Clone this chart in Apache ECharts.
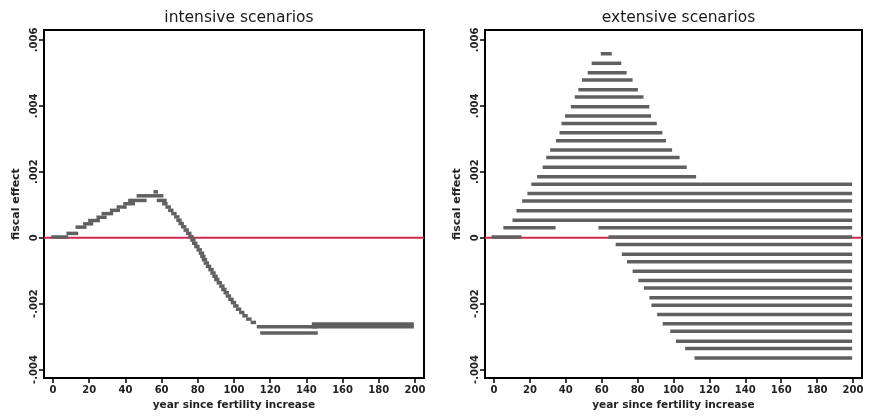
<!DOCTYPE html>
<html>
<head>
<meta charset="utf-8">
<script src="https://cdn.jsdelivr.net/npm/echarts@6/dist/echarts.min.js"></script>
<style>
html,body{margin:0;padding:0;background:#fff;}
#chart{width:870px;height:416px;}
</style>
</head>
<body>
<div id="chart"></div>
<script>
// ---- data ----
const panelTitles = ['intensive scenarios', 'extensive scenarios'];
const xAxisTitle = 'year since fertility increase';
const yAxisTitle = 'fiscal effect';
const xTickValues = [0, 20, 40, 60, 80, 100, 120, 140, 160, 180, 200];
const yTickValues = [-0.004, -0.002, 0, 0.002, 0.004, 0.006];
const yTickLabels = ['-.004', '-.002', '0', '.002', '.004', '.006'];
const xMin = -5, xMax = 205;
const yMin = -0.00426, yMax = 0.0063;
const zeroValue = 0;

// intensive scenarios: segment start year, end year, fiscal effect
const intensiveStart = [-1, 7.4, 12.4, 16.6, 19.4, 24, 26.8, 31.4, 35.1, 38.8, 41.5, 46.2, 55.5, 57.3,
  60.3, 62.1, 63.6, 65.3, 66.9, 68.1, 69.3, 70.7, 72.1, 73.5, 74.7, 75.8, 76.8, 78.0, 79.3, 80.5,
  81.3, 82.2, 83.2, 84.4, 85.8, 86.9, 88.0, 89.0, 90.4, 91.8, 92.9, 94.2, 95.4, 96.8, 98.2, 99.5,
  101.0, 102.8, 104.6, 106.7, 109.2, 112.6, 114.5, 143, 143];
const intensiveEnd = [8.3, 13.9, 18.5, 22.2, 25.9, 29.6, 33.2, 37, 40.7, 45.3, 51.7, 61, 58, 62.8,
  63.3, 65.1, 66.6, 68.3, 69.9, 71.1, 72.3, 73.7, 75.1, 76.5, 77.7, 78.8, 79.8, 81.0, 82.3, 83.5,
  84.3, 85.2, 86.2, 87.4, 88.8, 89.9, 91.0, 92.0, 93.4, 94.8, 95.9, 97.2, 98.4, 99.8, 101.2, 102.5,
  104.0, 105.8, 107.6, 109.7, 112.2, 146, 146.3, 199.4, 199.4];
const intensiveValue = [0.00002, 0.00013, 0.00032, 0.00042, 0.00052, 0.00062, 0.00073, 0.00083, 0.00093, 0.00103, 0.00113, 0.00127, 0.00139, 0.00113,
  0.00103, 0.00093, 0.00083, 0.00073, 0.00063, 0.00053, 0.00043, 0.00033, 0.00023, 0.00013, 0.00003, -0.00007, -0.00017, -0.00027, -0.00037, -0.00047,
  -0.00057, -0.00067, -0.00077, -0.00087, -0.00097, -0.00107, -0.00117, -0.00127, -0.00137, -0.00147, -0.00157, -0.00167, -0.00177, -0.00187, -0.00197, -0.00207,
  -0.00217, -0.00227, -0.00237, -0.00247, -0.00257, -0.0027, -0.00289, -0.00262, -0.0027];

// extensive scenarios: segment start year, end year, fiscal effect
const extensiveStart = [59.5, 54.4, 52.2, 49, 47, 45, 42.8, 39.6, 37.6, 36.5, 34.5, 31.3, 29.1, 27.1, 24,
  20.8, 18.6, 15.7, 12.5, 10.3, 5.2, 58.2, -1.3, 63.8,
  67.8, 71.2, 74.1, 77.2, 80.4, 83.5, 86.6, 87.7, 90.9, 94, 98.2, 101.4, 106.5, 111.7];
const extensiveEnd = [65.6, 70.9, 73.9, 77.2, 80.2, 83.3, 86.5, 87.5, 90.7, 93.8, 95.8, 99.2, 103.4, 107.4, 112.6,
  199.5, 199.5, 199.5, 199.5, 199.5, 34.3, 199.5, 15.3, 199.5,
  199.5, 199.5, 199.5, 199.5, 199.5, 199.5, 199.5, 199.5, 199.5, 199.5, 199.5, 199.5, 199.5, 199.5];
const extensiveValue = [0.00558, 0.00529, 0.005, 0.00478, 0.00449, 0.00427, 0.00397, 0.00369, 0.00346, 0.00318, 0.00294, 0.00266, 0.00243, 0.00214, 0.00185,
  0.00162, 0.00134, 0.00111, 0.00082, 0.00053, 0.0003, 0.0003, 0.00002, 0.00002,
  -0.00021, -0.0005, -0.00073, -0.00102, -0.0013, -0.00153, -0.00182, -0.00205, -0.00233, -0.00261, -0.00284, -0.00314, -0.00336, -0.00365];

// ---- chart ----
const FONT = 'DejaVu Sans';
const segColor = '#606060';
const zeroColor = '#d0284f';

function rows(s, e, v) { return s.map((x, i) => [x, e[i], v[i]]); }

function renderSeg(params, api) {
  const p1 = api.coord([api.value(0), api.value(2)]);
  const p2 = api.coord([api.value(1), api.value(2)]);
  return { type: 'line', shape: { x1: p1[0], y1: p1[1], x2: p2[0], y2: p2[1] },
    style: { stroke: segColor, lineWidth: 3.5, lineCap: 'butt' } };
}

const grids = [
  { left: 44, top: 30, width: 380, height: 349 },
  { left: 485, top: 30, width: 377, height: 349 }
];

function xAxis(i) {
  return {
    gridIndex: i, type: 'value', min: xMin, max: xMax,
    name: xAxisTitle, nameLocation: 'middle', nameGap: 19,
    nameTextStyle: { fontFamily: FONT, fontSize: 10.5, fontWeight: 'bold', color: '#222' },
    axisLine: { show: true, onZero: false, lineStyle: { color: '#000', width: 2 } },
    axisTick: { show: true, length: 5, customValues: xTickValues, lineStyle: { color: '#000', width: 1.5 } },
    axisLabel: { customValues: xTickValues, margin: 7, fontFamily: FONT, fontSize: 10, fontWeight: 'bold', color: '#222',
      formatter: v => String(v) },
    splitLine: { show: false }
  };
}
function yAxis(i) {
  return {
    gridIndex: i, type: 'value', min: yMin, max: yMax,
    name: yAxisTitle, nameLocation: 'middle', nameGap: 22, nameRotate: 90,
    nameTextStyle: { fontFamily: FONT, fontSize: 11, fontWeight: 'bold', color: '#222' },
    axisLine: { show: true, onZero: false, lineStyle: { color: '#000', width: 2 } },
    axisTick: { show: true, length: 5, customValues: yTickValues, lineStyle: { color: '#000', width: 1.5 } },
    axisLabel: { customValues: yTickValues, rotate: 90, margin: 5, fontFamily: FONT, fontSize: 10, fontWeight: 'bold', color: '#222',
      formatter: v => { const k = yTickValues.findIndex(t => Math.abs(t - v) < 1e-9); return k >= 0 ? yTickLabels[k] : ''; } },
    splitLine: { show: false }
  };
}

const chart = echarts.init(document.getElementById('chart'), null, { renderer: 'canvas' });
chart.setOption({
  animation: false,
  backgroundColor: '#fff',
  title: panelTitles.map((t, i) => ({
    text: t, left: grids[i].left + grids[i].width / 2, top: 5, textAlign: 'center',
    textStyle: { fontFamily: FONT, fontSize: 15.5, fontWeight: 'normal', color: '#1a1a1a' }
  })),
  grid: grids.map(g => Object.assign({ show: true, borderColor: '#000', borderWidth: 2, backgroundColor: '#fff' }, g)),
  xAxis: [xAxis(0), xAxis(1)],
  yAxis: [yAxis(0), yAxis(1)],
  series: [
    { type: 'line', xAxisIndex: 0, yAxisIndex: 0, z: 1, symbol: 'none', silent: true,
      data: [[xMin, zeroValue], [xMax, zeroValue]], lineStyle: { color: zeroColor, width: 2 } },
    { type: 'line', xAxisIndex: 1, yAxisIndex: 1, z: 1, symbol: 'none', silent: true,
      data: [[xMin, zeroValue], [xMax, zeroValue]], lineStyle: { color: zeroColor, width: 2 } },
    { type: 'custom', xAxisIndex: 0, yAxisIndex: 0, z: 2, renderItem: renderSeg,
      encode: { x: [0, 1], y: 2 }, data: rows(intensiveStart, intensiveEnd, intensiveValue) },
    { type: 'custom', xAxisIndex: 1, yAxisIndex: 1, z: 2, renderItem: renderSeg,
      encode: { x: [0, 1], y: 2 }, data: rows(extensiveStart, extensiveEnd, extensiveValue) }
  ]
});
</script>
</body>
</html>
